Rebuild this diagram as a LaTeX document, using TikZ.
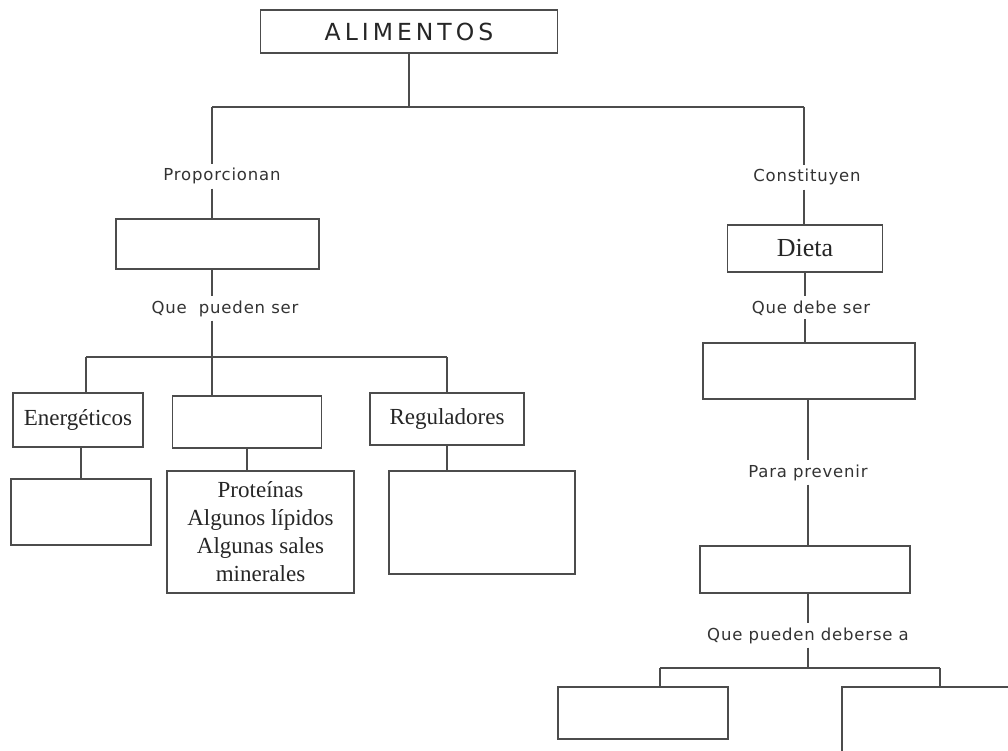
\documentclass[tikz,border=0pt]{standalone}
\usepackage{fontspec}
\setmainfont{Liberation Serif}
\newfontfamily\comicfont[LetterSpace=5]{DejaVu Sans}
\newfontfamily\titlefont[LetterSpace=17]{DejaVu Sans}
\tikzset{cbox/.style={
    rectangle,
    draw=black!70,
    line width=1.7pt,
    inner sep=0pt,
    align=center,
    text=black!85,
    font=\fontsize{23}{28}\selectfont
  },
  tbox/.style={cbox,font=\titlefont\fontsize{23.5}{26}\selectfont},
  lbl/.style={inner sep=4pt,anchor=base,text=black!80,
    font=\comicfont\fontsize{16.5}{18}\selectfont},
  link/.style={draw=black!70,line width=1.7pt},
}
\begin{document}
\begin{tikzpicture}[x=1pt,y=-1pt]
  \useasboundingbox (0,0) rectangle (1008,751);
  \clip (0,0) rectangle (1008,751);
  \fill[white] (0,0) rectangle (1008,751);
  % boxes
  \node[tbox,minimum width=297pt,minimum height=43pt] (alim) at (409,31.5) {ALIMENTOS};
  \node[cbox,minimum width=203pt,minimum height=50pt] (nutr) at (217.5,244) {};
  \node[cbox,minimum width=130pt,minimum height=54pt] (ener) at (78,420) {Energéticos};
  \node[cbox,minimum width=149pt,minimum height=52pt] (mid) at (247,422) {};
  \node[cbox,minimum width=154pt,minimum height=52pt] (regu) at (447,419) {Reguladores};
  \node[cbox,minimum width=140pt,minimum height=66pt] (eneb) at (81,512) {};
  \node[cbox,minimum width=187pt,minimum height=122pt] (prot) at (260.5,532)
    {Proteínas\\Algunos lípidos\\Algunas sales\\minerales};
  \node[cbox,minimum width=186pt,minimum height=103pt] (regb) at (482,522.5) {};
  \node[cbox,minimum width=155pt,minimum height=47pt,font=\fontsize{26}{30}\selectfont] (dieta) at (805,248.5) {Dieta};
  \node[cbox,minimum width=212pt,minimum height=56pt] (debe) at (809,371) {};
  \node[cbox,minimum width=210pt,minimum height=47pt] (enf) at (805,569.5) {};
  \node[cbox,minimum width=170pt,minimum height=52pt] (causa1) at (643,713) {};
  \node[cbox,minimum width=200pt,minimum height=90pt] (causa2) at (942,732) {};
  % link labels
  \node[lbl] (prop) at (222,181) {Proporcionan};
  \node[lbl] (pueden) at (225,313) {Que \ pueden ser};
  \node[lbl] (const) at (807,182) {Constituyen};
  \node[lbl] (debser) at (811,313) {Que debe ser};
  \node[lbl] (prev) at (808,477) {Para prevenir};
  \node[lbl] (deberse) at (808,640) {Que pueden deberse a};
  % junctions
  \coordinate (jtop) at (409,107);
  \coordinate (jleft) at (212,107);
  \coordinate (jright) at (804,107);
  \coordinate (jmid) at (212,357);
  \coordinate (jm1) at (86,357);
  \coordinate (jm3) at (447,357);
  \coordinate (jlow) at (808,668);
  \coordinate (jl1) at (660,668);
  \coordinate (jl2) at (940,668);
  % left branch
  \draw[link] (alim) -- (jtop);
  \draw[link] (jleft) -- (jright);
  \draw[link] (jleft) -- (jleft |- prop.north);
  \draw[link] (jleft |- prop.south) -- (jleft |- nutr.north);
  \draw[link] (jleft |- nutr.south) -- (jleft |- pueden.north);
  \draw[link] (jleft |- pueden.south) -- (jmid);
  \draw[link] (jm1) -- (jm3);
  \draw[link] (jm1) -- (jm1 |- ener.north);
  \draw[link] (jmid) -- (jmid |- mid.north);
  \draw[link] (jm3) -- (jm3 |- regu.north);
  \draw[link] (eneb.north) -- (eneb.north |- ener.south);
  \draw[link] (mid.south) -- (mid.south |- prot.north);
  \draw[link] (regu.south) -- (regu.south |- regb.north);
  % right branch
  \draw[link] (jright) -- (jright |- const.north);
  \draw[link] (jright |- const.south) -- (jright |- dieta.north);
  \draw[link] (dieta.south) -- (dieta.south |- debser.north);
  \draw[link] (dieta.south |- debser.south) -- (dieta.south |- debe.north);
  \draw[link] (jlow |- debe.south) -- (jlow |- prev.north);
  \draw[link] (jlow |- prev.south) -- (jlow |- enf.north);
  \draw[link] (jlow |- enf.south) -- (jlow |- deberse.north);
  \draw[link] (jlow |- deberse.south) -- (jlow);
  \draw[link] (jl1) -- (jl2);
  \draw[link] (jl1) -- (jl1 |- causa1.north);
  \draw[link] (jl2) -- (jl2 |- causa2.north);
\end{tikzpicture}
\end{document}
